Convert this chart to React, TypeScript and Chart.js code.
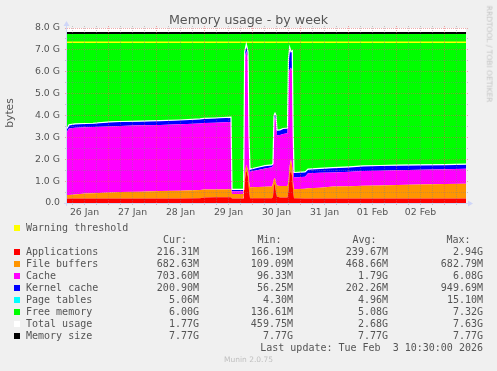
import React, { useEffect, useRef } from 'react';
import { Chart, registerables } from 'chart.js';

Chart.register(...registerables);

// time axis: hours since 26 Jan 00:00
const timeStart = 3.25;
const timeEnd = 202.75;
const hours = [3.25, 4.25, 7.25, 12.25, 16.25, 24.75, 29.75, 39.75, 49.75, 59.75, 69.75, 71.75, 77.25, 85.25, 85.75, 91.25, 91.6, 92.1, 92.9, 93.75, 94.25, 94.75, 98.75, 102.25, 105.75, 106.25, 106.75, 107.25, 107.75, 108.25, 109.75, 111.25, 113.5, 114, 114.6, 115.25, 115.9, 116.35, 116.75, 122.25, 123.75, 129.75, 136.25, 144.75, 151.25, 159.75, 168.25, 179.75, 192.25, 202.75];

// values in GiB
const applications = [0.21, 0.21, 0.21, 0.21, 0.21, 0.21, 0.21, 0.21, 0.21, 0.21, 0.22, 0.25, 0.26, 0.26, 0.21, 0.21, 0.4, 1.0, 1.5, 1.2, 0.6, 0.22, 0.22, 0.22, 0.22, 0.3, 0.9, 0.8, 0.5, 0.3, 0.25, 0.25, 0.25, 0.6, 1.3, 1.5, 1.2, 0.5, 0.22, 0.21, 0.21, 0.21, 0.21, 0.21, 0.21, 0.21, 0.21, 0.21, 0.21, 0.21];
const fileBuffers = [0.16, 0.16, 0.18, 0.22, 0.24, 0.27, 0.29, 0.31, 0.34, 0.35, 0.37, 0.37, 0.36, 0.37, 0.2, 0.2, 0.2, 0.3, 0.25, 0.3, 0.4, 0.5, 0.51, 0.52, 0.53, 0.6, 0.2, 0.33, 0.4, 0.5, 0.53, 0.53, 0.53, 0.4, 0.4, 0.5, 0.4, 0.4, 0.41, 0.44, 0.46, 0.49, 0.54, 0.56, 0.58, 0.59, 0.61, 0.64, 0.66, 0.67];
const cache = [2.89, 3.04, 3.05, 3.03, 3.02, 3.02, 3.02, 3.03, 3.02, 3.04, 3.05, 3.04, 3.05, 3.07, 0.13, 0.13, 0.4, 5.3, 5.2, 5.1, 1.9, 0.71, 0.78, 0.84, 0.88, 0.8, 2.8, 2.77, 2.9, 2.3, 2.33, 2.37, 2.41, 4.8, 4.4, 4.2, 4.4, 2.1, 0.54, 0.55, 0.69, 0.68, 0.65, 0.66, 0.67, 0.68, 0.68, 0.67, 0.67, 0.69];
const kernelCache = [0.14, 0.16, 0.17, 0.17, 0.17, 0.2, 0.2, 0.19, 0.19, 0.19, 0.2, 0.2, 0.21, 0.22, 0.08, 0.08, 0.2, 0.3, 0.3, 0.3, 0.2, 0.11, 0.12, 0.12, 0.11, 0.1, 0.1, 0.2, 0.2, 0.23, 0.23, 0.25, 0.23, 0.8, 1.0, 0.7, 0.95, 0.2, 0.22, 0.22, 0.18, 0.2, 0.21, 0.22, 0.23, 0.23, 0.23, 0.22, 0.21, 0.2];
const pageTables = [0.005, 0.005, 0.005, 0.005, 0.005, 0.005, 0.005, 0.005, 0.005, 0.005, 0.005, 0.005, 0.005, 0.005, 0.004, 0.004, 0.006, 0.012, 0.014, 0.012, 0.008, 0.005, 0.005, 0.005, 0.005, 0.005, 0.008, 0.008, 0.006, 0.005, 0.005, 0.005, 0.005, 0.01, 0.014, 0.012, 0.01, 0.006, 0.005, 0.005, 0.005, 0.005, 0.005, 0.005, 0.005, 0.005, 0.005, 0.005, 0.005, 0.005];
const memorySize = 7.77;
const warningThreshold = 7.35;

const xTickHours = [12, 36, 60, 84, 108, 132, 156, 180];
const xTickLabels = ['26 Jan', '27 Jan', '28 Jan', '29 Jan', '30 Jan', '31 Jan', '01 Feb', '02 Feb'];
const yTickValues = [0, 1, 2, 3, 4, 5, 6, 7, 8];
const yTickLabels = ['0.0', '1.0 G', '2.0 G', '3.0 G', '4.0 G', '5.0 G', '6.0 G', '7.0 G', '8.0 G'];

const yMajorGrid = [1, 2, 3, 4, 5, 6, 7, 8];
const yMinorGrid = [0.5, 1.5, 2.5, 3.5, 4.5, 5.5, 6.5, 7.5];
const xMajorGrid = [24, 48, 72, 96, 120, 144, 168, 192];
const xMinorGrid = [6, 12, 18, 30, 36, 42, 54, 60, 66, 78, 84, 90, 102, 108, 114, 126, 132, 138, 150, 156, 162, 174, 180, 186, 198];

const seriesNames = ['Applications', 'File buffers', 'Cache', 'Kernel cache', 'Page tables', 'Free memory', 'Total usage', 'Memory size'];
const seriesColors = ['#ff0000', '#ff9500', '#ff00ff', '#0000ff', '#00ffff', '#00ff00', '#ffffff', '#000000'];
const curValues = ['216.31M', '682.63M', '703.60M', '200.90M', '5.06M', '6.00G', '1.77G', '7.77G'];
const minValues = ['166.19M', '109.09M', '96.33M', '56.25M', '4.30M', '136.61M', '459.75M', '7.77G'];
const avgValues = ['239.67M', '468.66M', '1.79G', '202.26M', '4.96M', '5.08G', '2.68G', '7.77G'];
const maxValues = ['2.94G', '682.79M', '6.08G', '949.69M', '15.10M', '7.32G', '7.63G', '7.77G'];

const TEXT = '#555555';
const MONO = '"DejaVu Sans Mono", monospace';
const SANS = '"DejaVu Sans", sans-serif';

const muninPlugin = {
  id: 'muninGrid',
  beforeDatasetsDraw(chart: any) {
    const { ctx, chartArea: a } = chart;
    ctx.save();
    ctx.fillStyle = '#ffffff';
    ctx.fillRect(a.left, a.top, a.right - a.left, a.bottom - a.top);
    ctx.restore();
  },
  afterDatasetsDraw(chart: any) {
    const { ctx, chartArea: a, scales } = chart;
    const xs = scales.x;
    const ys = scales.y;
    ctx.save();
    ctx.lineWidth = 1;
    ctx.setLineDash([1, 1]);
    const seg = (x1: number, y1: number, x2: number, y2: number, color: string) => {
      ctx.strokeStyle = color;
      ctx.beginPath();
      ctx.moveTo(x1, y1);
      ctx.lineTo(x2, y2);
      ctx.stroke();
    };
    const minor = 'rgba(130,130,130,0.4)';
    const major = 'rgba(225,90,90,0.5)';
    yMinorGrid.forEach((v) => {
      const py = Math.floor(ys.getPixelForValue(v)) + 0.5;
      seg(a.left - 2, py, a.right + 2, py, minor);
    });
    xMinorGrid.forEach((h) => {
      if (h < timeStart || h > timeEnd) return;
      const px = Math.floor(xs.getPixelForValue(h)) + 0.5;
      seg(px, a.top - 2, px, a.bottom + 2, minor);
    });
    yMajorGrid.forEach((v) => {
      const py = Math.floor(ys.getPixelForValue(v)) + 0.5;
      seg(a.left - 2, py, a.right + 2, py, major);
    });
    xMajorGrid.forEach((h) => {
      const px = Math.floor(xs.getPixelForValue(h)) + 0.5;
      seg(px, a.top - 2, px, a.bottom + 2, major);
    });
    ctx.setLineDash([]);
    // axes with arrows
    const axis = '#cfd6f8';
    const by = Math.floor(a.bottom) + 0.5;
    const lx = Math.floor(a.left) - 0.5;
    seg(a.left - 3, by, a.right + 3, by, axis);
    seg(lx, a.bottom + 3, lx, a.top - 3, axis);
    ctx.fillStyle = axis;
    ctx.beginPath();
    ctx.moveTo(a.right + 2, by - 3);
    ctx.lineTo(a.right + 7, by);
    ctx.lineTo(a.right + 2, by + 3);
    ctx.closePath();
    ctx.fill();
    ctx.beginPath();
    ctx.moveTo(lx - 3, a.top - 2);
    ctx.lineTo(lx, a.top - 7);
    ctx.lineTo(lx + 3, a.top - 2);
    ctx.closePath();
    ctx.fill();
    ctx.restore();
  },
};

export default function App() {
  const ref = useRef<HTMLCanvasElement>(null);

  useEffect(() => {
    if (!ref.current) return;
    const totalUsage = hours.map((_, i) => applications[i] + fileBuffers[i] + cache[i] + kernelCache[i] + pageTables[i]);
    const freeMemory = totalUsage.map((t) => memorySize - t);
    const pts = (vals: number[]) => hours.map((h, i) => ({ x: h, y: vals[i] }));
    const flat = (v: number) => [{ x: timeStart, y: v }, { x: timeEnd, y: v }];
    const area = (label: string, vals: number[], color: string, fill: any) => ({
      label,
      data: pts(vals),
      backgroundColor: color,
      borderColor: 'rgba(0,0,0,0)',
      borderWidth: 0,
      fill,
      stack: 'mem',
      order: 1,
      pointRadius: 0,
    });
    const line = (label: string, data: any[], color: string, width: number, stack: string) => ({
      label,
      data,
      borderColor: color,
      backgroundColor: color,
      borderWidth: width,
      fill: false,
      stack,
      order: 0,
      pointRadius: 0,
    });

    const chart = new Chart(ref.current, {
      type: 'line',
      data: {
        datasets: [
          area(seriesNames[0], applications, seriesColors[0], 'origin'),
          area(seriesNames[1], fileBuffers, seriesColors[1], '-1'),
          area(seriesNames[2], cache, seriesColors[2], '-1'),
          area(seriesNames[3], kernelCache, seriesColors[3], '-1'),
          area(seriesNames[4], pageTables, seriesColors[4], '-1'),
          area(seriesNames[5], freeMemory, seriesColors[5], '-1'),
          line(seriesNames[6], pts(totalUsage), '#ffffff', 1.2, 'total'),
          line(seriesNames[7], flat(memorySize), '#000000', 2, 'size'),
          line('Warning threshold', flat(warningThreshold), '#ffff00', 1.5, 'warn'),
        ] as any,
      },
      options: {
        animation: false,
        responsive: false,
        devicePixelRatio: 1,
        events: [],
        layout: { padding: { top: 28, right: 31, left: 0, bottom: 0 } },
        elements: { point: { radius: 0 }, line: { tension: 0 } },
        plugins: {
          legend: { display: false },
          title: { display: false },
          tooltip: { enabled: false },
        },
        scales: {
          x: {
            type: 'linear',
            min: timeStart,
            max: timeEnd,
            grid: { display: false, drawTicks: false },
            border: { display: false },
            ticks: {
              autoSkip: false,
              maxRotation: 0,
              padding: 4,
              color: TEXT,
              font: { family: SANS, size: 9.33 },
              callback: (_v: any, i: number) => xTickLabels[i],
            },
            afterBuildTicks: (s: any) => {
              s.ticks = xTickHours.map((v) => ({ value: v }));
            },
            afterFit: (s: any) => {
              s.height = 19;
            },
          },
          y: {
            stacked: true,
            min: 0,
            max: 8,
            grid: { display: false, drawTicks: false },
            border: { display: false },
            ticks: {
              padding: 7,
              color: TEXT,
              font: { family: SANS, size: 9.33 },
              callback: (_v: any, i: number) => yTickLabels[i],
            },
            afterBuildTicks: (s: any) => {
              s.ticks = yTickValues.map((v) => ({ value: v }));
            },
            afterFit: (s: any) => {
              s.width = 67;
            },
          },
        },
      } as any,
      plugins: [muninPlugin],
    });
    return () => chart.destroy();
  }, []);

  const rowCenter = (k: number) => 227.7 + 12 * k;
  const textTop = (k: number) => rowCenter(k) - 5.8;
  const mono: React.CSSProperties = {
    position: 'absolute',
    font: `10px ${MONO}`,
    lineHeight: '12px',
    color: TEXT,
    whiteSpace: 'pre',
  };
  const square = (k: number, color: string) => (
    <div key={'sq' + k} style={{ position: 'absolute', left: 14, top: rowCenter(k) - 3, width: 6, height: 6, background: color }} />
  );

  return (
    <div style={{ position: 'absolute', left: 0, top: 0, width: 497, height: 371, background: '#f0f0f0', overflow: 'hidden' }}>
      <canvas ref={ref} width={497} height={222} style={{ position: 'absolute', left: 0, top: 0, width: 497, height: 222 }} />
      <div style={{ position: 'absolute', left: 0, top: 11.6, width: 497, textAlign: 'center', font: `12.67px ${SANS}`, lineHeight: '16px', color: TEXT, whiteSpace: 'pre' }}>
        Memory usage - by week
      </div>
      <div style={{ position: 'absolute', left: 10.3, top: 113, transform: 'translate(-50%,-50%) rotate(-90deg)', font: `10.67px ${SANS}`, lineHeight: '10.67px', color: TEXT, whiteSpace: 'pre' }}>
        bytes
      </div>
      <div style={{ position: 'absolute', left: 488.5, top: 53.5, transform: 'translate(-50%,-50%) rotate(90deg)', font: `7.5px ${SANS}`, lineHeight: '7.5px', color: '#c4c4c4', whiteSpace: 'pre' }}>
        RRDTOOL / TOBI OETIKER
      </div>

      {square(0, '#ffff00')}
      <div style={{ ...mono, left: 26, top: textTop(0) }}>Warning threshold</div>

      <div style={{ ...mono, left: 163, top: textTop(1) }}>Cur:</div>
      <div style={{ ...mono, left: 257.5, top: textTop(1) }}>Min:</div>
      <div style={{ ...mono, left: 352.5, top: textTop(1) }}>Avg:</div>
      <div style={{ ...mono, left: 446.5, top: textTop(1) }}>Max:</div>

      {seriesNames.map((name, i) => {
        const k = i + 2;
        return (
          <React.Fragment key={name}>
            {square(k, seriesColors[i])}
            <div style={{ ...mono, left: 26, top: textTop(k) }}>{name}</div>
            <div style={{ ...mono, right: 298, top: textTop(k), textAlign: 'right' }}>{curValues[i]}</div>
            <div style={{ ...mono, right: 204, top: textTop(k), textAlign: 'right' }}>{minValues[i]}</div>
            <div style={{ ...mono, right: 109, top: textTop(k), textAlign: 'right' }}>{avgValues[i]}</div>
            <div style={{ ...mono, right: 14, top: textTop(k), textAlign: 'right' }}>{maxValues[i]}</div>
          </React.Fragment>
        );
      })}

      <div style={{ ...mono, right: 14, top: textTop(10), textAlign: 'right' }}>{'Last update: Tue Feb  3 10:30:00 2026'}</div>
      <div style={{ position: 'absolute', left: 0, width: 497, top: 355.1, textAlign: 'center', font: `7.5px ${SANS}`, lineHeight: '10px', color: '#c0c0c0', whiteSpace: 'pre' }}>
        Munin 2.0.75
      </div>
    </div>
  );
}
